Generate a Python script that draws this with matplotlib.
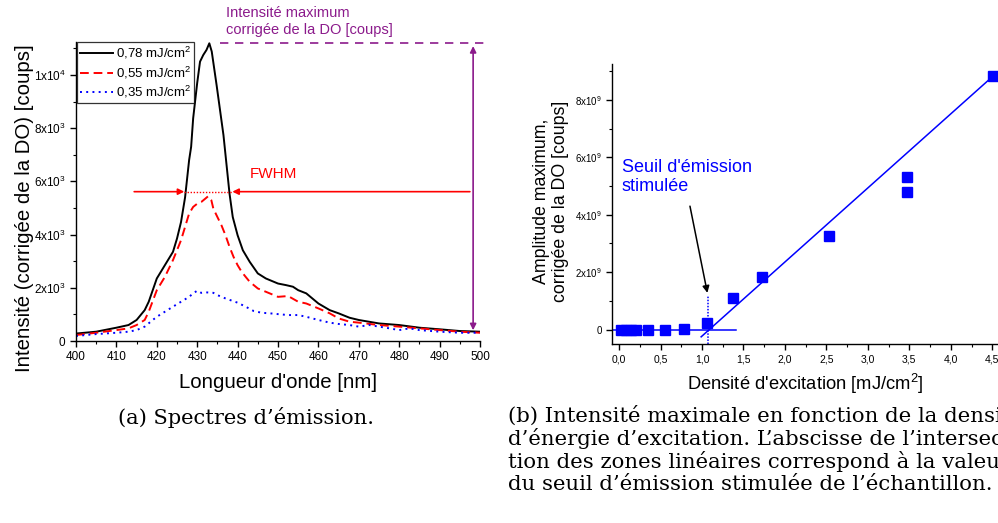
import matplotlib
matplotlib.use("Agg")
import matplotlib.pyplot as plt
from matplotlib.ticker import MultipleLocator

plt.rcParams['font.family'] = ['Liberation Sans', 'DejaVu Sans']
plt.rcParams['mathtext.fontset'] = 'custom'
plt.rcParams['mathtext.rm'] = 'Liberation Sans'
plt.rcParams['mathtext.it'] = 'Liberation Sans:italic'

# ---------------- data: spectra (a) ----------------
wl_078 = [400, 405, 410, 413, 415, 417, 418, 420, 422, 424, 425, 426, 427, 428, 428.5, 429, 430, 430.7,
          431.5, 432.3, 433, 433.6, 434.8, 436.5, 438, 438.8, 440, 441.3, 443, 445, 447, 450, 452,
          453.7, 455, 457, 460, 462.8, 465, 467.7, 470, 475, 480, 485, 490, 495, 500]
I_078 = [280, 350, 500, 600, 790, 1160, 1475, 2350, 2850, 3350, 3850, 4475, 5400, 6800, 7300, 8370, 9700,
         10500, 10750, 10940, 11190, 10880, 9620, 7740, 5540, 4660, 3975, 3410, 2975, 2540, 2350, 2160,
         2100, 2040, 1910, 1790, 1410, 1160, 1040, 875, 790, 660, 600, 500, 440, 375, 350]

wl_055 = [400, 405, 410, 413, 415, 417, 418, 420, 422, 424, 425, 426, 427, 428, 429, 430, 431, 432, 432.7,
          433.5, 434, 435, 436, 437, 438, 439, 440, 441, 442, 443, 445, 447, 450, 452.5, 455, 457, 460,
          462.8, 465, 467.7, 470, 475, 480, 485, 490, 495, 500]
I_055 = [225, 310, 410, 475, 600, 790, 1100, 1910, 2410, 3040, 3410, 3790, 4290, 4790, 5040, 5160, 5225,
         5350, 5440, 5290, 4975, 4660, 4350, 3975, 3540, 3160, 2850, 2600, 2410, 2225, 1975, 1850, 1660,
         1690, 1475, 1410, 1225, 1040, 850, 725, 690, 600, 540, 475, 410, 350, 310]

wl_035 = [400, 405, 410, 413, 415, 417, 419, 420, 422, 424, 426, 428, 429, 430, 431, 432, 434, 435, 437,
          440, 442, 444, 446, 448, 450, 452.5, 455, 457, 460, 462.8, 465, 467.7, 470, 472.6, 475, 477.6,
          480, 482.5, 485, 490, 495, 500]
I_035 = [190, 260, 310, 350, 410, 540, 790, 910, 1100, 1290, 1475, 1660, 1790, 1890, 1810, 1830, 1810,
         1725, 1600, 1440, 1290, 1125, 1060, 1040, 1010, 975, 975, 910, 790, 690, 640, 600, 540, 600,
         540, 475, 410, 475, 410, 350, 310, 310]

labels_a = ["0,78 mJ/cm$^2$", "0,55 mJ/cm$^2$", "0,35 mJ/cm$^2$"]
yticks_a = [0, 2000, 4000, 6000, 8000, 10000]
yticklabels_a = ["0", "2x10$^3$", "4x10$^3$", "6x10$^3$", "8x10$^3$", "1x10$^4$"]
xticks_a = [400, 410, 420, 430, 440, 450, 460, 470, 480, 490, 500]

peak_I = 11190
fwhm_level = 5613
fwhm_left, fwhm_right = 426.8, 438.7

# ---------------- data: threshold (b) ----------------
density = [0.02, 0.08, 0.14, 0.2, 0.35, 0.55, 0.78, 1.06, 1.37, 1.72, 2.53, 3.47, 3.47, 4.51]
amplitude = [0, 0, 0, 0, 0, 0, 0.03e9, 0.23e9, 1.09e9, 1.85e9, 3.25e9, 5.33e9, 4.79e9, 8.83e9]
fit_low_x = [-0.07, 1.41]
fit_low_y = [-0.02e9, -0.02e9]
fit_high_x = [0.99, 4.51]
fit_high_y = [-0.25e9, 8.83e9]
threshold = 1.076
xticks_b = [0, 0.5, 1.0, 1.5, 2.0, 2.5, 3.0, 3.5, 4.0, 4.5]
xticklabels_b = ["0,0", "0,5", "1,0", "1,5", "2,0", "2,5", "3,0", "3,5", "4,0", "4,5"]
yticks_b = [0, 2e9, 4e9, 6e9, 8e9]
yticklabels_b = ["0", "2x10$^9$", "4x10$^9$", "6x10$^9$", "8x10$^9$"]

W, H = 998, 523
fig = plt.figure(figsize=(W / 100, H / 100), dpi=100)

def style_axes(ax):
    for s in ['top', 'right']:
        ax.spines[s].set_visible(False)
    for s in ['left', 'bottom']:
        ax.spines[s].set_linewidth(1.0)
    ax.tick_params(which='major', direction='out', length=4, width=1.0)
    ax.tick_params(which='minor', direction='out', length=2.5, width=0.8)

# ---------------- panel (a) ----------------
axA = fig.add_axes([76 / W, 1 - 341 / H, (480 - 76) / W, (341 - 41.7) / H])
style_axes(axA)
axA.plot(wl_078, I_078, color='black', lw=1.4, label=labels_a[0])
axA.plot(wl_055, I_055, color='#ff0000', lw=1.4, ls=(0, (4.5, 2.5)), label=labels_a[1])
axA.plot(wl_035, I_035, color='#0000ff', lw=1.4, ls=(0, (1, 2.2)), label=labels_a[2])
axA.set_xlim(400, 500)
axA.set_ylim(0, 11250)
axA.set_xticks(xticks_a)
axA.xaxis.set_minor_locator(MultipleLocator(5))
axA.set_yticks(yticks_a)
axA.set_yticklabels(yticklabels_a)
axA.yaxis.set_minor_locator(MultipleLocator(1000))
axA.tick_params(axis='both', labelsize=8.5)
axA.set_xlabel("Longueur d'onde [nm]", fontsize=14.7)
axA.xaxis.set_label_coords(0.5, -0.107)
axA.set_ylabel("Intensité (corrigée de la DO) [coups]", fontsize=14.7)
axA.yaxis.set_label_coords(-0.105, 0.445)

leg = axA.legend(loc='upper left', bbox_to_anchor=(0.002, 1.0), fontsize=9.5, frameon=True,
                 fancybox=False, borderaxespad=0, handlelength=2.5, handletextpad=0.2,
                 labelspacing=0.25, borderpad=0.25)
leg.get_frame().set_edgecolor('black')
leg.get_frame().set_linewidth(0.9)

purple = '#8b1a8b'
axA.plot([435.6, 501.5], [peak_I, peak_I], color=purple, lw=1.2, ls=(0, (5, 4)), clip_on=False)
axA.annotate('', xy=(498.3, peak_I), xytext=(498.3, 300),
             arrowprops=dict(arrowstyle='<|-|>', color=purple, lw=1.2, mutation_scale=9),
             annotation_clip=False)
fig.text(226 / W, 1 - 6 / H, "Intensité maximum\ncorrigée de la DO [coups]", color=purple,
         fontsize=10.5, va='top', ha='left', linespacing=1.25)

red = '#ff0000'
axA.annotate('', xy=(fwhm_left, fwhm_level), xytext=(414.4, fwhm_level),
             arrowprops=dict(arrowstyle='-|>', color=red, lw=1.2, mutation_scale=9, shrinkA=0, shrinkB=0))
axA.annotate('', xy=(fwhm_right, fwhm_level), xytext=(497.5, fwhm_level),
             arrowprops=dict(arrowstyle='-|>', color=red, lw=1.2, mutation_scale=9, shrinkA=0, shrinkB=0))
axA.plot([fwhm_left, fwhm_right], [fwhm_level, fwhm_level], color=red, lw=1.0, ls=(0, (1, 1.2)))
axA.text(443, 6000, "FWHM", color=red, fontsize=11, ha='left', va='bottom')

# ---------------- panel (b) ----------------
axB = fig.add_axes([612 / W, 1 - 344 / H, 401 / W, (344 - 64) / H])
style_axes(axB)
blue = '#0000ff'
axB.plot(fit_low_x, fit_low_y, color=blue, lw=1.1)
axB.plot(fit_high_x, fit_high_y, color=blue, lw=1.1)
axB.plot([threshold, threshold], [-0.5e9, 1.16e9], color=blue, lw=1.1, ls=(0, (1, 1)))
axB.plot(density, amplitude, ls='none', marker='s', ms=7.5, color=blue, mec=blue, clip_on=False)
axB.set_xlim(-0.085, 4.75)
axB.set_ylim(-0.5e9, 9.25e9)
axB.set_xticks(xticks_b)
axB.set_xticklabels(xticklabels_b)
axB.xaxis.set_minor_locator(MultipleLocator(0.25))
axB.set_yticks(yticks_b)
axB.set_yticklabels(yticklabels_b)
axB.yaxis.set_minor_locator(MultipleLocator(1e9))
axB.tick_params(axis='x', labelsize=7.5)
axB.tick_params(axis='y', labelsize=7)
axB.set_xlabel("Densité d'excitation [mJ/cm$^2$]", fontsize=13.2)
axB.xaxis.set_label_coords(0.481, -0.1)
axB.set_ylabel("Amplitude maximum,\ncorrigée de la DO [coups]", fontsize=12.8, linespacing=1.15)
axB.yaxis.set_label_coords(-0.108, 0.51)
axB.text(0.03, 5.95e9, "Seuil d'émission\nstimulée", color=blue, fontsize=13, va='top', ha='left',
         linespacing=1.2)
axB.annotate('', xy=(1.065, 1.28e9), xytext=(0.855, 4.3e9),
             arrowprops=dict(arrowstyle='-|>', color='black', lw=1.1, mutation_scale=10,
                             shrinkA=0, shrinkB=0))

# ---------------- captions ----------------
serif = ['DejaVu Serif']
fig.text(246 / W, 1 - 417 / H, "(a) Spectres d’émission.", family=serif, fontsize=15.1,
         ha='center', va='center')
cap_b = ["(b) Intensité maximale en fonction de la densité",
         "d’énergie d’excitation. L’abscisse de l’intersec-",
         "tion des zones linéaires correspond à la valeur",
         "du seuil d’émission stimulée de l’échantillon."]
for i, line in enumerate(cap_b):
    fig.text(508 / W, 1 - (416 + 22.8 * i) / H, line, family=serif, fontsize=15.3,
             ha='left', va='center')

fig.savefig("out.png", dpi=100)
